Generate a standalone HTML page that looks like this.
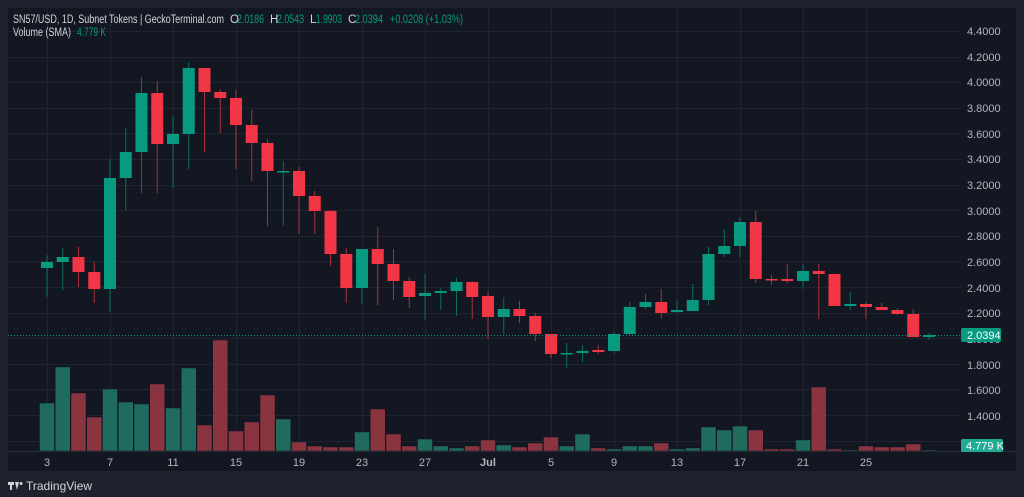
<!DOCTYPE html>
<html><head><meta charset="utf-8"><style>
html,body{margin:0;padding:0;background:#1e222d;width:1024px;height:497px;overflow:hidden;font-family:"Liberation Sans",sans-serif}
svg{position:absolute;left:0;top:0}
</style></head><body>
<svg id="c" width="1024" height="497" xmlns="http://www.w3.org/2000/svg">
<rect x="0" y="0" width="1024" height="497" fill="#1e222d"/>
<rect x="8" y="8" width="1008" height="463" fill="#131722"/>
<g id="grid" stroke="#1f2430" stroke-width="1"></g>
<line x1="8" y1="451.5" x2="1016" y2="451.5" stroke="#2a2e39"/>
<g id="vol"></g>
<g id="cand"></g>
<line x1="8" y1="335.5" x2="961" y2="335.5" stroke="#089981" stroke-dasharray="1,2"/>
<g font-size="11" fill="#b2b5be" font-family="Liberation Sans, sans-serif">
<text x="967" y="35">4.4000</text>
<text x="967" y="61">4.2000</text>
<text x="967" y="86">4.0000</text>
<text x="967" y="112">3.8000</text>
<text x="967" y="138">3.6000</text>
<text x="967" y="163">3.4000</text>
<text x="967" y="189">3.2000</text>
<text x="967" y="215">3.0000</text>
<text x="967" y="240">2.8000</text>
<text x="967" y="266">2.6000</text>
<text x="967" y="292">2.4000</text>
<text x="967" y="317">2.2000</text>
<text x="967" y="343">2.0000</text>
<text x="967" y="369">1.8000</text>
<text x="967" y="394">1.6000</text>
<text x="967" y="420">1.4000</text>
</g>
<rect x="961" y="328" width="40" height="14" rx="2" fill="#089981"/>
<text x="967" y="339" font-size="11" fill="#fff">2.0394</text>
<rect x="961" y="439" width="42" height="13" rx="2" fill="#22ab94"/>
<text x="966" y="449.5" font-size="11" fill="#fff">4.779 K</text>
<g font-size="11" fill="#b2b5be" text-anchor="middle">
<text x="47" y="466">3</text><text x="110" y="466">7</text><text x="173" y="466">11</text><text x="236" y="466">15</text>
<text x="299" y="466">19</text><text x="362" y="466">23</text><text x="425" y="466">27</text><text x="488" y="466" font-weight="bold">Jul</text>
<text x="551" y="466">5</text><text x="614" y="466">9</text><text x="677" y="466">13</text><text x="740" y="466">17</text>
<text x="803" y="466">21</text><text x="866" y="466">25</text>
</g>
<g font-size="11.5">
<text x="13" y="23" fill="#d1d4dc" textLength="211" lengthAdjust="spacingAndGlyphs">SN57/USD, 1D, Subnet Tokens | GeckoTerminal.com</text>
<text x="230" y="23" fill="#d1d4dc">O</text><text x="237" y="23" fill="#089981" textLength="27" lengthAdjust="spacingAndGlyphs">2.0186</text>
<text x="270" y="23" fill="#d1d4dc">H</text><text x="277" y="23" fill="#089981" textLength="27" lengthAdjust="spacingAndGlyphs">2.0543</text>
<text x="310" y="23" fill="#d1d4dc">L</text><text x="316" y="23" fill="#089981" textLength="26" lengthAdjust="spacingAndGlyphs">1.9903</text>
<text x="348" y="23" fill="#d1d4dc">C</text><text x="355" y="23" fill="#089981" textLength="28" lengthAdjust="spacingAndGlyphs">2.0394</text>
<text x="390" y="23" fill="#089981" textLength="73" lengthAdjust="spacingAndGlyphs">+0.0208 (+1.03%)</text>
<text x="13" y="36" fill="#d1d4dc" textLength="58" lengthAdjust="spacingAndGlyphs">Volume (SMA)</text>
<text x="77" y="36" fill="#089981" textLength="29" lengthAdjust="spacingAndGlyphs">4.779 K</text>
</g>
<g fill="#d1d4dc"><rect x="8" y="482" width="6" height="3"/><rect x="10" y="482" width="2" height="8"/><path d="M15 482h4l-2 8z"/><circle cx="21" cy="483.5" r="1.5"/></g>
<text x="26" y="490" font-size="12" fill="#d1d4dc">TradingView</text>
</svg>
<script>
var d=[[262,268,255,297,1,403],[262,257,248,290,1,367],[257,272,247,287,0,393],[272,289,262,303,0,417],[289,178,159,312,1,389],[178,152,128,210,1,402],[152,93,77,193,1,404],[93,144,81,193,0,384],[144,134,116,188,1,408],[134,68,62,169,1,368],[68,92,68,152,0,425],[92,98,89,133,0,340],[98,125,90,169,0,431],[125,143,110,181,0,422],[143,171,139,226,0,395],[171,171,161,226,1,419],[171,196,167,234,0,442],[196,211,191,234,0,446],[211,254,210,266,0,447],[254,288,248,303,0,447],[288,249,249,304,1,432],[249,264,227,305,0,409],[264,281,249,300,0,434],[281,297,277,308,0,446],[296,293,274,320,1,439],[293,291,288,310,1,446],[291,282,278,316,1,448],[282,297,281,319,0,446],[296,317,291,339,0,440],[317,309,297,334,1,445],[309,316,301,323,0,447],[316,334,313,341,0,443],[334,354,334,358,0,437],[354,353,343,368,1,446],[353,351,345,362,1,434],[350,352,345,354,0,448],[351,334,332,353,1,449],[334,307,302,336,1,446],[307,302,294,309,1,446],[302,313,289,318,0,443],[312,310,300,313,1,449],[311,300,284,311,1,448],[300,254,247,305,1,427],[254,246,229,257,1,430],[246,222,217,257,1,426],[222,279,211,283,0,430],[279,280,275,285,0,449],[279,281,264,283,0,449],[281,271,264,289,1,440],[271,274,264,319,0,387],[274,306,274,306,0,449],[306,304,292,310,1,450],[304,307,302,319,0,446],[307,310,303,310,0,447],[310,314,308,315,0,447],[314,337,309,337,0,444],[337,335,333,340,1,450]];
var ns="http://www.w3.org/2000/svg";
function el(g,t,a){var e=document.createElementNS(ns,t);for(var k in a)e.setAttribute(k,a[k]);document.getElementById(g).appendChild(e);}
for(var y=31;y<451;y+=25.6)el("grid","line",{x1:8,x2:961,y1:Math.round(y)+.5,y2:Math.round(y)+.5});
for(var i=0;i<14;i++){var x=Math.round(47+i*4*15.75)+.5;el("grid","line",{x1:x,x2:x,y1:8,y2:451});}
d.forEach(function(c,i){var cx=39.5+i*15.75+7.5;var col=c[4]?"#089981":"#f23645";
el("vol","rect",{x:cx-7.5,y:c[5],width:15,height:451-c[5],fill:c[4]?"#1f6b5e":"#8a3440",stroke:"#131722","stroke-width":0.5});
el("cand","line",{x1:cx,x2:cx,y1:c[2],y2:c[3],stroke:c[4]?"#0a6e5e":"#a8303c","stroke-width":1});
var t=Math.min(c[0],c[1]),h=Math.max(1.5,Math.abs(c[0]-c[1]));
el("cand","rect",{x:cx-6,y:t,width:12,height:h,fill:col});});
</script>
</body></html>
